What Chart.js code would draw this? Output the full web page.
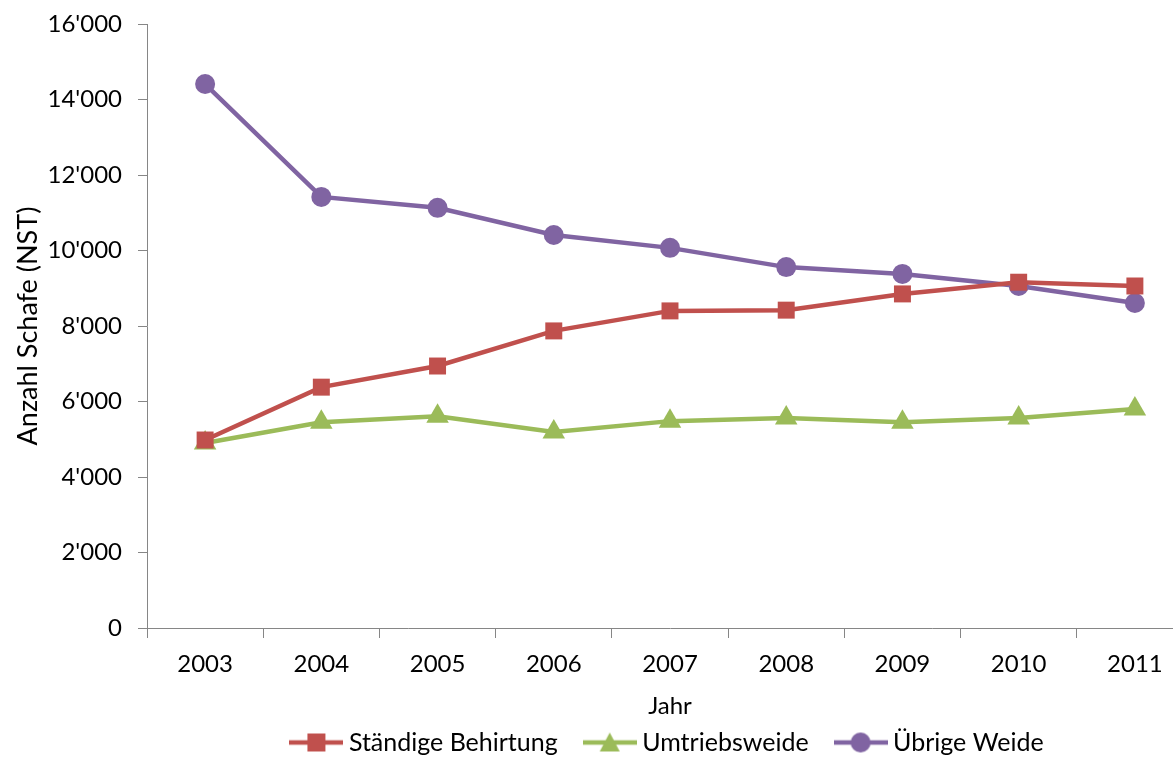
<!DOCTYPE html>
<html>
<head>
<meta charset="utf-8">
<script src="https://cdn.jsdelivr.net/npm/chart.js@4"></script>
<style>
  html, body { margin: 0; padding: 0; background: #fff; overflow: hidden; }
  #wrap { width: 1173px; height: 758px; overflow: hidden; }
</style>
</head>
<body>
<div id="wrap"><canvas id="sheepChart" width="1206" height="758"></canvas></div>
<script>
var years = ["2003", "2004", "2005", "2006", "2007", "2008", "2009", "2010", "2011"];
var staendigeBehirtung = [4980, 6380, 6940, 7870, 8400, 8420, 8850, 9160, 9060];
var umtriebsweide = [4900, 5450, 5610, 5190, 5480, 5560, 5450, 5560, 5800];
var uebrigeWeide = [14410, 11420, 11130, 10410, 10070, 9560, 9380, 9060, 8610];
var yTicks = [0, 2000, 4000, 6000, 8000, 10000, 12000, 14000, 16000];

var fontFam = "Lato, 'Open Sans', sans-serif";
var axisGrey = "#868686";

function fmt(v) {
  return String(v).replace(/\B(?=(\d{3})+(?!\d))/g, "'");
}

// legend swatch: short line with the marker in the middle
function swatch(color, style) {
  var c = document.createElement('canvas');
  c.width = 54; c.height = 22;
  var g = c.getContext('2d');
  g.strokeStyle = color; g.lineWidth = 4.5;
  g.beginPath(); g.moveTo(0, 11); g.lineTo(54, 11); g.stroke();
  g.fillStyle = color;
  g.beginPath();
  if (style == 'rect') {
    g.rect(18, 2, 18, 18);
  } else if (style == 'triangle') {
    g.moveTo(27, 1); g.lineTo(37, 20); g.lineTo(17, 20); g.closePath();
  } else {
    g.arc(27, 11, 10, 0, Math.PI * 2);
  }
  g.fill();
  return c;
}

var ctx = document.getElementById("sheepChart").getContext('2d');
var sheepChart = new Chart(ctx, {
  type: 'line',
  data: {
    labels: years,
    datasets: [
      {
        label: "Ständige Behirtung",
        data: staendigeBehirtung,
        borderColor: "#C0504D",
        backgroundColor: "#C0504D",
        borderWidth: 4.5,
        pointStyle: 'rect',
        pointRadius: 12,
        pointHoverRadius: 12,
        pointBorderWidth: 0,
        _swatch: swatch("#C0504D", 'rect')
      },
      {
        label: "Umtriebsweide",
        data: umtriebsweide,
        borderColor: "#9BBB59",
        backgroundColor: "#9BBB59",
        borderWidth: 4.5,
        pointStyle: 'triangle',
        pointRadius: 13,
        pointHoverRadius: 13,
        pointBorderWidth: 0,
        _swatch: swatch("#9BBB59", 'triangle')
      },
      {
        label: "Übrige Weide",
        data: uebrigeWeide,
        borderColor: "#8064A2",
        backgroundColor: "#8064A2",
        borderWidth: 4.5,
        pointStyle: 'circle',
        pointRadius: 10,
        pointHoverRadius: 10,
        pointBorderWidth: 0,
        _swatch: swatch("#8064A2", 'circle')
      }
    ]
  },
  options: {
    responsive: false,
    animation: false,
    layout: { padding: { top: 24, right: 0, bottom: -7, left: 0 } },
    plugins: {
      tooltip: { enabled: false },
      legend: {
        position: 'bottom',
        fullSize: false,
        labels: {
          font: { family: fontFam, size: 25 },
          color: '#000',
          usePointStyle: true,
          pointStyleWidth: 40,
          padding: 32,
          generateLabels: function(chart) {
            return chart.data.datasets.map(function(ds, i) {
              return {
                text: ds.label,
                pointStyle: ds._swatch,
                fillStyle: ds.borderColor,
                strokeStyle: ds.borderColor,
                lineWidth: 0,
                hidden: false,
                datasetIndex: i,
                fontColor: '#000'
              };
            });
          }
        }
      }
    },
    scales: {
      x: {
        offset: true,
        afterFit: function(axis) { axis.height = 70; },
        grid: { offset: true, drawOnChartArea: false, tickLength: 10, color: axisGrey },
        border: { color: axisGrey, width: 1 },
        ticks: { font: { family: fontFam, size: 24 }, color: '#000', padding: 12 },
        title: { display: true, text: 'Jahr', font: { family: fontFam, size: 24 }, color: '#000', padding: { top: 0, bottom: -23 } }
      },
      y: {
        min: 0,
        max: 16000,
        afterBuildTicks: function(axis) {
          axis.ticks = yTicks.map(function(v) { return { value: v }; });
        },
        afterFit: function(axis) {
          axis.width = 147;
          axis.paddingTop = 0;
          axis.paddingBottom = 0;
        },
        grid: { drawOnChartArea: false, tickLength: 9, color: axisGrey },
        border: { color: axisGrey, width: 1 },
        ticks: {
          font: { family: fontFam, size: 24 },
          color: '#000',
          padding: 16,
          callback: function(v) { return fmt(v); }
        },
        title: { display: true, text: 'Anzahl Schafe (NST)', font: { family: fontFam, size: 27 }, color: '#000', padding: { top: 12, bottom: 0 } }
      }
    }
  }
});
</script>
</body>
</html>
